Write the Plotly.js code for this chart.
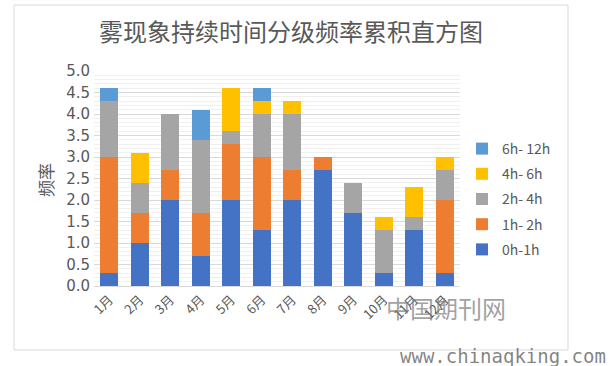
<!DOCTYPE html>
<html>
<head>
<meta charset="utf-8">
<script src="https://cdn.plot.ly/plotly-3.0.1.min.js"></script>
<style>html,body{margin:0;padding:0;background:#fff;}#chart{width:612px;height:366px;}</style>
</head>
<body>
<div id="chart"></div>
<script>
const months = ['1月','2月','3月','4月','5月','6月','7月','8月','9月','10月','11月','12月'];
const s0to1 = [0.3, 1.0, 2.0, 0.7, 2.0, 1.3, 2.0, 2.7, 1.7, 0.3, 1.3, 0.3];
const s1to2 = [2.7, 0.7, 0.7, 1.0, 1.3, 1.7, 0.7, 0.3, 0.0, 0.0, 0.0, 1.7];
const s2to4 = [1.3, 0.7, 1.3, 1.7, 0.3, 1.0, 1.3, 0.0, 0.7, 1.0, 0.3, 0.7];
const s4to6 = [0.0, 0.7, 0.0, 0.0, 1.0, 0.3, 0.3, 0.0, 0.0, 0.3, 0.7, 0.3];
const s6to12 = [0.3, 0.0, 0.0, 0.7, 0.0, 0.3, 0.0, 0.0, 0.0, 0.0, 0.0, 0.0];
const seriesNames = ['0h-1h', '1h- 2h', '2h- 4h', '4h- 6h', '6h- 12h'];
const seriesColors = ['#4472C4', '#ED7D31', '#A5A5A5', '#FFC000', '#5B9BD5'];
const seriesData = [s0to1, s1to2, s2to4, s4to6, s6to12];

const FONT = '"Noto Sans CJK SC", "Noto Sans", sans-serif';
const NUMFONT = '"DejaVu Sans", sans-serif';
const GRAY = '#595959';

const traces = seriesData.map((vals, i) => ({
  type: 'bar',
  name: seriesNames[i],
  x: months,
  y: vals,
  legendgroup: 'g' + i,
  legendrank: 1000 - i,
  marker: {color: seriesColors[i], line: {width: 0}},
  hoverinfo: 'x+y+name'
}));

const L = 94, R = 460, T = 71, B = 286;
const W = R - L, H = B - T;
const px = x => (x - L) / W;
const py = y => (B - y) / H;

const layout = {
  width: 612, height: 366,
  margin: {l: L, r: 612 - R, t: T, b: 366 - B},
  paper_bgcolor: '#ffffff',
  plot_bgcolor: '#ffffff',
  barmode: 'stack',
  bargap: 0.4,
  font: {family: FONT, color: GRAY},
  title: {
    text: '雾现象持续时间分级频率累积直方图',
    font: {family: FONT, size: 24, color: GRAY},
    x: 291 / 612, xref: 'container', xanchor: 'center',
    y: 1 - 33 / 366, yref: 'container', yanchor: 'middle'
  },
  xaxis: {
    type: 'category',
    tickangle: -45,
    tickfont: {family: FONT, size: 13, color: GRAY},
    showgrid: false,
    showline: true,
    linecolor: '#d9d9d9',
    ticks: '',
    zeroline: false
  },
  yaxis: {
    range: [0, 5],
    dtick: 0.5,
    tickformat: '.1f',
    tickfont: {family: NUMFONT, size: 15, color: GRAY},
    ticklabelstandoff: 3,
    showgrid: true,
    gridcolor: '#d9d9d9',
    gridwidth: 1,
    minor: {dtick: 0.1, showgrid: true, gridcolor: '#f0f0f0', gridwidth: 1},
    zeroline: false,
    showline: false,
    ticks: ''
  },
  legend: {
    x: px(462), y: py(133), xanchor: 'left', yanchor: 'top',
    traceorder: 'grouped',
    tracegroupgap: 4,
    font: {family: FONT, size: 14, color: GRAY},
    bgcolor: 'rgba(0,0,0,0)'
  },
  shapes: [{
    type: 'rect', xref: 'paper', yref: 'paper',
    x0: px(14), x1: px(568), y0: py(350), y1: py(5),
    line: {color: '#d9d9d9', width: 1}, fillcolor: 'rgba(0,0,0,0)', layer: 'below'
  }],
  annotations: [
    {text: '频率', xref: 'paper', yref: 'paper', x: px(45), y: py(180),
     textangle: -90, showarrow: false, font: {family: FONT, size: 17, color: GRAY},
     xanchor: 'center', yanchor: 'middle'},
    {text: '中国期刊网', xref: 'paper', yref: 'paper', x: px(446), y: py(307),
     showarrow: false, font: {family: FONT, size: 24, color: 'rgba(120,120,120,0.7)'},
     xanchor: 'center', yanchor: 'middle'},
    {text: 'www.chinaqking.com', xref: 'paper', yref: 'paper', x: px(608), y: py(356),
     showarrow: false, font: {family: '"DejaVu Sans Mono", monospace', size: 19, color: 'rgba(110,110,110,0.85)'},
     xanchor: 'right', yanchor: 'middle'}
  ]
};

Plotly.newPlot('chart', traces, layout, {displayModeBar: false, staticPlot: true});
</script>
</body>
</html>
